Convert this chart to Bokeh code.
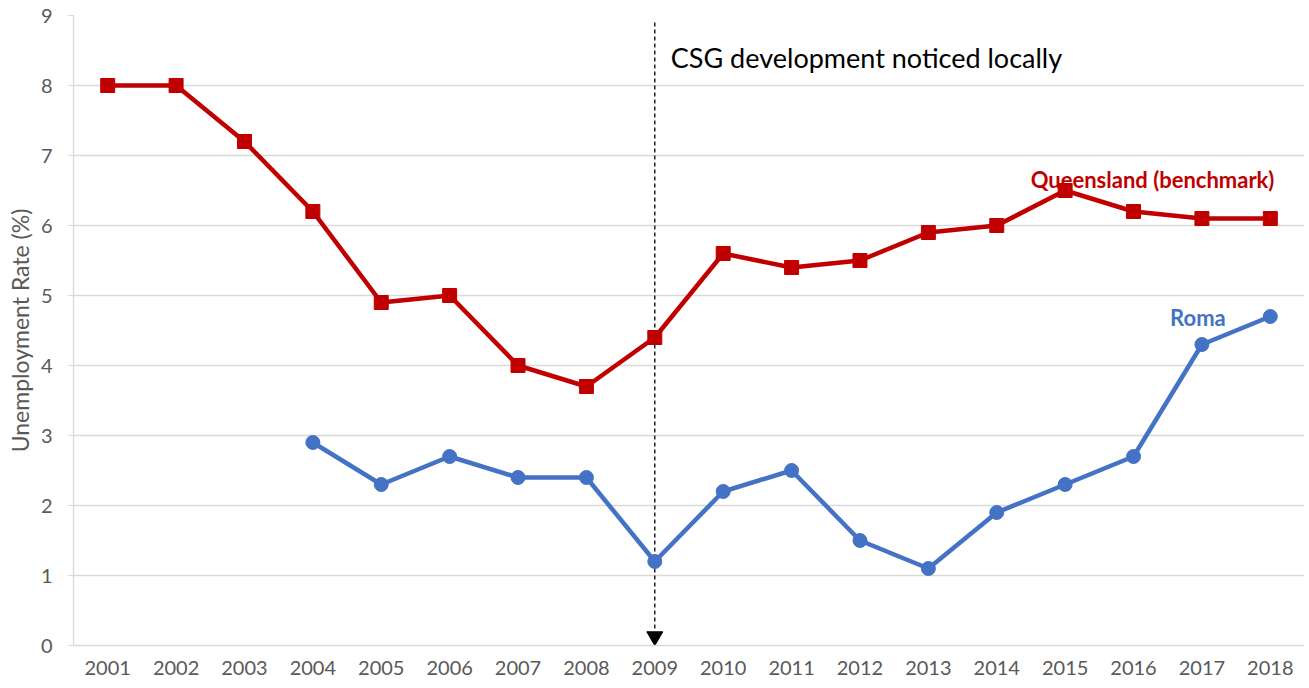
from bokeh.plotting import figure
from bokeh.models import ColumnDataSource, FactorRange, Range1d, FixedTicker
from bokeh.core.properties import value
from bokeh.embed import file_html
from bokeh.resources import INLINE

years = [str(y) for y in range(2001, 2019)]
qld = [8.0, 8.0, 7.2, 6.2, 4.9, 5.0, 4.0, 3.7, 4.4, 5.6, 5.4, 5.5, 5.9, 6.0, 6.5, 6.2, 6.1, 6.1]
roma_years = [str(y) for y in range(2004, 2019)]
roma = [2.9, 2.3, 2.7, 2.4, 2.4, 1.2, 2.2, 2.5, 1.5, 1.1, 1.9, 2.3, 2.7, 4.3, 4.7]
event_year = "2009"
event_text = "CSG development noticed locally"

RED = "#C00000"
BLUE = "#4472C4"
FONT = "Lato"

p = figure(x_range=FactorRange(*years), y_range=Range1d(0, 9),
           width=1304, height=680, output_backend="svg", toolbar_location=None,
           min_border_left=73, min_border_right=0, min_border_top=15, min_border_bottom=35)
p.outline_line_color = None
p.xgrid.grid_line_color = None
p.ygrid.grid_line_color = "#d9d9d9"
p.ygrid.grid_line_width = 1.3
p.yaxis.ticker = FixedTicker(ticks=list(range(0, 10)))
for ax in (p.xaxis[0], p.yaxis[0]):
    ax.axis_line_color = "#d9d9d9"
    ax.axis_line_width = 1.3
    ax.major_label_text_font = FONT
    ax.major_label_text_font_size = "20px"
    ax.major_label_text_color = "#595959"
    ax.minor_tick_line_color = None
p.xaxis.major_tick_line_color = None
p.yaxis.major_tick_line_color = "#d9d9d9"
p.yaxis.major_tick_out = 6
p.yaxis.major_tick_in = 0
p.yaxis.major_label_standoff = 15
p.xaxis.major_label_standoff = 9
p.yaxis.axis_label = "Unemployment Rate (%)"
p.yaxis.axis_label_text_font = FONT
p.yaxis.axis_label_text_font_style = "normal"
p.yaxis.axis_label_text_font_size = "23px"
p.yaxis.axis_label_text_color = "#595959"
p.yaxis.axis_label_standoff = 4

# event marker
p.segment(x0=[event_year], y0=[8.9], x1=[event_year], y1=[0.2], line_color="black",
          line_width=1.3, line_dash="4 3")
p.scatter(x=[event_year], y=[0.13], marker="inverted_triangle", size=16,
          fill_color="black", line_color="black")
p.text(x=[event_year], y=[8.4], text=[event_text], x_offset=16, text_baseline="middle",
       text_align="left", text_font=value(FONT), text_font_size="27px", text_color="black")

qsrc = ColumnDataSource(dict(x=years, y=qld))
rsrc = ColumnDataSource(dict(x=roma_years, y=roma))
p.line("x", "y", source=qsrc, line_color=RED, line_width=4.5)
p.scatter("x", "y", source=qsrc, marker="square", size=14, fill_color=RED, line_color=RED)
p.line("x", "y", source=rsrc, line_color=BLUE, line_width=4.5)
p.scatter("x", "y", source=rsrc, marker="circle", size=14, fill_color=BLUE, line_color=BLUE)

p.text(x=["2016"], y=[6.66], text=["Queensland (benchmark)"], x_offset=19, text_align="center",
       text_baseline="middle", text_font=value(FONT), text_font_style="bold",
       text_font_size="22px", text_color=RED)
p.text(x=["2017"], y=[4.69], text=["Roma"], x_offset=-4, text_align="center",
       text_baseline="middle", text_font=value(FONT), text_font_style="bold",
       text_font_size="22px", text_color=BLUE)

open("out.html", "w").write(file_html(p, INLINE))
